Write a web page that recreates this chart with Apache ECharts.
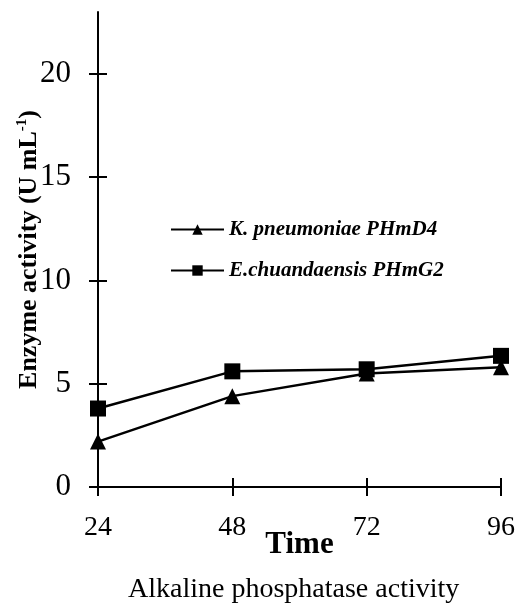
<!DOCTYPE html>
<html>
<head>
<meta charset="utf-8">
<script src="https://cdn.jsdelivr.net/npm/echarts@6/dist/echarts.min.js"></script>
<style>
  html, body { margin: 0; padding: 0; background: #fff; }
  #chart { width: 522px; height: 608px; }
</style>
</head>
<body>
<div id="chart"></div>
<script>
var chart = echarts.init(document.getElementById('chart'));

// data
var hours = [24, 48, 72, 96];                 // time (h)
var kPneumoniae = [2.2, 4.4, 5.5, 5.8];       // K. pneumoniae PHmD4
var eChuandaensis = [3.8, 5.6, 5.7, 6.35];    // E.chuandaensis PHmG2
var seriesNames = ['K. pneumoniae PHmD4', 'E.chuandaensis PHmG2'];
var yTicks = [0, 5, 10, 15, 20];

var FONT = 'Liberation Serif';

function pairs(xs, ys) {
  return xs.map(function (x, i) { return [x, ys[i]]; });
}

var baseX = {
  type: 'value', min: 24, max: 96, interval: 24,
  splitLine: { show: false },
  axisLine: { onZero: false, lineStyle: { color: '#000', width: 2 } },
  axisTick: { length: 9, lineStyle: { color: '#000', width: 2 } }
};
var baseY = {
  type: 'value', min: 0, max: 23, interval: 5,
  splitLine: { show: false },
  axisLine: { lineStyle: { color: '#000', width: 2 } },
  axisTick: { length: 9, customValues: yTicks, lineStyle: { color: '#000', width: 2 } }
};

var option = {
  backgroundColor: '#fff',
  animation: false,
  textStyle: { fontFamily: FONT, color: '#000' },
  title: {
    text: 'Alkaline phosphatase activity',
    left: 123, top: 571,
    textStyle: { fontFamily: FONT, fontSize: 28, fontWeight: 'normal', color: '#000' }
  },
  legend: {
    orient: 'vertical',
    left: 165, top: 214,
    itemGap: 20,
    itemWidth: 53, itemHeight: 13,
    data: seriesNames,
    textStyle: { fontFamily: FONT, fontSize: 21, fontWeight: 'bold', fontStyle: 'italic', color: '#000' }
  },
  grid: { left: 98, right: 21, top: 12, bottom: 121, containLabel: false, outerBoundsMode: 'none' },
  xAxis: [
    Object.assign({}, baseX, {
      name: 'Time', nameLocation: 'middle', nameGap: 42, nameMoveOverlap: false,
      nameTextStyle: { fontFamily: FONT, fontSize: 31, fontWeight: 'bold', color: '#000' },
      axisLabel: { margin: 27, fontFamily: FONT, fontSize: 28, color: '#000' }
    }),
    Object.assign({}, baseX, {
      position: 'bottom',
      axisLine: { show: false },
      axisTick: { inside: true, length: 9, lineStyle: { color: '#000', width: 2 } },
      axisLabel: { show: false }
    })
  ],
  yAxis: [
    Object.assign({}, baseY, {
      name: '{b|Enzyme activity (U mL}{s|-1}{b|)}',
      nameLocation: 'middle', nameGap: 55, nameRotate: 90, nameMoveOverlap: false,
      nameTextStyle: {
        rich: {
          b: { fontFamily: FONT, fontSize: 26, fontWeight: 'bold', color: '#000', lineHeight: 28 },
          s: { fontFamily: FONT, fontSize: 15, fontWeight: 'bold', color: '#000', verticalAlign: 'top', lineHeight: 28 }
        }
      },
      axisLabel: { margin: 27, fontFamily: FONT, fontSize: 31, color: '#000', customValues: yTicks }
    }),
    Object.assign({}, baseY, {
      position: 'left',
      axisLine: { show: false },
      axisTick: { inside: true, length: 9, customValues: yTicks, lineStyle: { color: '#000', width: 2 } },
      axisLabel: { show: false }
    })
  ],
  series: [
    {
      name: seriesNames[0], type: 'line',
      data: pairs(hours, kPneumoniae),
      symbol: 'triangle', symbolSize: 16,
      lineStyle: { color: '#000', width: 2.5 },
      itemStyle: { color: '#000' }
    },
    {
      name: seriesNames[1], type: 'line',
      data: pairs(hours, eChuandaensis),
      symbol: 'rect', symbolSize: 16,
      lineStyle: { color: '#000', width: 2.5 },
      itemStyle: { color: '#000' }
    }
  ]
};

chart.setOption(option);
</script>
</body>
</html>
